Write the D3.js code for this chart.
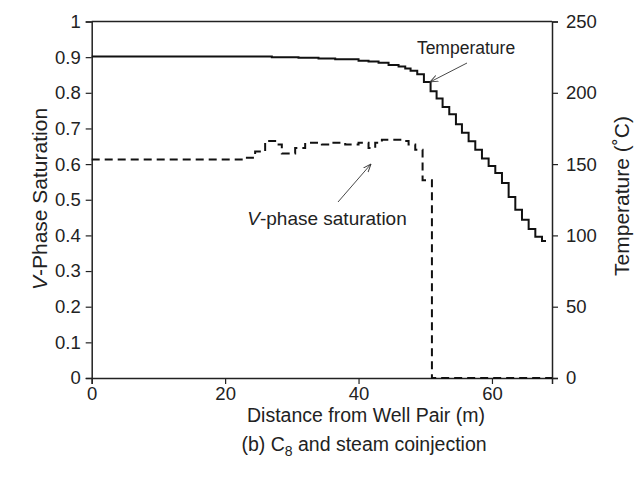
<!DOCTYPE html>
<html>
<head>
<meta charset="utf-8">
<script src="https://cdn.jsdelivr.net/npm/d3@7"></script>
<style>
  body { margin: 0; background: #fff; }
  text { font-family: "Liberation Sans", Arial, sans-serif; fill: #222; }
</style>
</head>
<body>
<div id="chart"></div>
<script>
// temperature profile (step values, deg C) vs distance (m)
var tempDist = [0, 27, 31, 34, 36.5, 40, 41.5, 43, 44.5, 46, 47, 47.8, 48.8, 49.8, 50.8, 51.7, 52.6, 53.6, 54.6, 55.5, 56.5, 57.5, 58.5, 59.5, 60.5, 61.5, 62.5, 63.5, 64.5, 65.5, 66.5, 67.5, 68.1];
var tempVal  = [225.5, 225, 224.5, 224, 223.5, 222.5, 222, 221, 219.5, 218.5, 217, 215.5, 213, 207.5, 201, 196, 190, 185, 178, 172, 166, 160, 154, 148.7, 143.8, 136.7, 127, 118, 111, 104.5, 99, 96, 96];

// V-phase saturation (step values) vs distance (m)
var satDist = [0, 23, 24.5, 26, 27.5, 28.5, 30.5, 32, 34.5, 36, 38, 40, 41.5, 42.5, 43.5, 46.5, 47.5, 48.5, 49.6, 51, 69];
var satVal  = [0.613, 0.618, 0.635, 0.665, 0.655, 0.63, 0.645, 0.66, 0.655, 0.66, 0.655, 0.66, 0.645, 0.66, 0.668, 0.665, 0.655, 0.64, 0.555, 0, 0];

var xTicks = [0, 20, 40, 60];
var yLeftTicks = [0, 0.1, 0.2, 0.3, 0.4, 0.5, 0.6, 0.7, 0.8, 0.9, 1];
var yRightTicks = [0, 50, 100, 150, 200, 250];

var W = 641, H = 479;
var margin = {top: 21.5, right: 89, bottom: 101, left: 91.7};
var width = W - margin.left - margin.right,
    height = H - margin.top - margin.bottom;

var svg = d3.select("#chart").append("svg")
    .attr("width", W).attr("height", H);

var defs = svg.append("defs");
defs.append("marker")
    .attr("id", "arr")
    .attr("viewBox", "0 0 10 10")
    .attr("refX", 9).attr("refY", 5)
    .attr("markerWidth", 9).attr("markerHeight", 9)
    .attr("markerUnits", "userSpaceOnUse")
    .attr("orient", "auto")
    .append("path")
    .attr("d", "M0,1.5 L9,5 L0,8.5")
    .attr("fill", "none").attr("stroke", "#333").attr("stroke-width", 1);

var g = svg.append("g")
    .attr("transform", "translate(" + margin.left + "," + margin.top + ")");

var x = d3.scaleLinear().domain([0, 69]).range([0, width]);
var yL = d3.scaleLinear().domain([0, 1]).range([height, 0]);
var yR = d3.scaleLinear().domain([0, 250]).range([height, 0]);

// axes
var xAxis = g.append("g")
    .attr("transform", "translate(0," + height + ")")
    .call(d3.axisBottom(x).tickValues(xTicks).tickSize(6).tickPadding(3));
var lAxis = g.append("g")
    .call(d3.axisLeft(yL).tickValues(yLeftTicks).tickSize(6).tickPadding(5)
      .tickFormat(function(d) { return d3.format("~g")(d); }));
var rAxis = g.append("g")
    .attr("transform", "translate(" + width + ",0)")
    .call(d3.axisRight(yR).tickValues(yRightTicks).tickSize(6).tickPadding(8));

// top border
g.append("line").attr("x1", 0).attr("x2", width).attr("y1", 0).attr("y2", 0)
    .attr("stroke", "#222").attr("stroke-width", 1.5);

[xAxis, lAxis, rAxis].forEach(function(a) {
  a.select(".domain").attr("stroke", "#222").attr("stroke-width", 1.5);
  a.selectAll(".tick line").attr("stroke", "#222").attr("stroke-width", 1.2);
  a.selectAll(".tick text")
    .style("font-family", "'Liberation Sans', Arial, sans-serif")
    .style("font-size", "18.5px").attr("fill", "#222");
});

// saturation (dashed)
var satData = satDist.map(function(d, i) { return [d, satVal[i]]; });
g.append("path")
    .datum(satData)
    .attr("fill", "none")
    .attr("stroke", "#111")
    .attr("stroke-width", 2)
    .attr("stroke-dasharray", "8,5")
    .attr("d", d3.line()
      .x(function(d) { return x(d[0]); })
      .y(function(d) { return yL(d[1]); })
      .curve(d3.curveStepAfter));

// temperature (solid)
var tempData = tempDist.map(function(d, i) { return [d, tempVal[i]]; });
g.append("path")
    .datum(tempData)
    .attr("fill", "none")
    .attr("stroke", "#111")
    .attr("stroke-width", 2)
    .attr("d", d3.line()
      .x(function(d) { return x(d[0]); })
      .y(function(d) { return yR(d[1]); })
      .curve(d3.curveStepAfter));

// annotations
svg.append("text")
    .attr("x", 466).attr("y", 54)
    .attr("text-anchor", "middle")
    .style("font-size", "17.5px")
    .text("Temperature");
svg.append("line")
    .attr("x1", 467).attr("y1", 63).attr("x2", 430).attr("y2", 82)
    .attr("stroke", "#333").attr("stroke-width", 0.9)
    .attr("marker-end", "url(#arr)");

var vt = svg.append("text")
    .attr("x", 327).attr("y", 225)
    .attr("text-anchor", "middle")
    .style("font-size", "19px");
vt.append("tspan").style("font-style", "italic").text("V");
vt.append("tspan").text("-phase saturation");
svg.append("line")
    .attr("x1", 338).attr("y1", 202).attr("x2", 371).attr("y2", 164)
    .attr("stroke", "#333").attr("stroke-width", 0.9)
    .attr("marker-end", "url(#arr)");

// axis titles
var lt = svg.append("text")
    .attr("transform", "translate(47," + 199 + ") rotate(-90)")
    .attr("text-anchor", "middle")
    .style("font-size", "21px");
lt.append("tspan").style("font-style", "italic").text("V");
lt.append("tspan").text("-Phase Saturation");

svg.append("text")
    .attr("transform", "translate(629," + 196 + ") rotate(-90)")
    .attr("text-anchor", "middle")
    .style("font-size", "21px")
    .text("Temperature (\u02DAC)");

svg.append("text")
    .attr("x", 366).attr("y", 422)
    .attr("text-anchor", "middle")
    .style("font-size", "19.5px")
    .text("Distance from Well Pair (m)");

var cap = svg.append("text")
    .attr("x", 364).attr("y", 451)
    .attr("text-anchor", "middle")
    .style("font-size", "19.5px");
cap.append("tspan").text("(b) C");
cap.append("tspan").attr("dy", 5).style("font-size", "14px").text("8");
cap.append("tspan").attr("dy", -5).text(" and steam coinjection");
</script>
</body>
</html>
